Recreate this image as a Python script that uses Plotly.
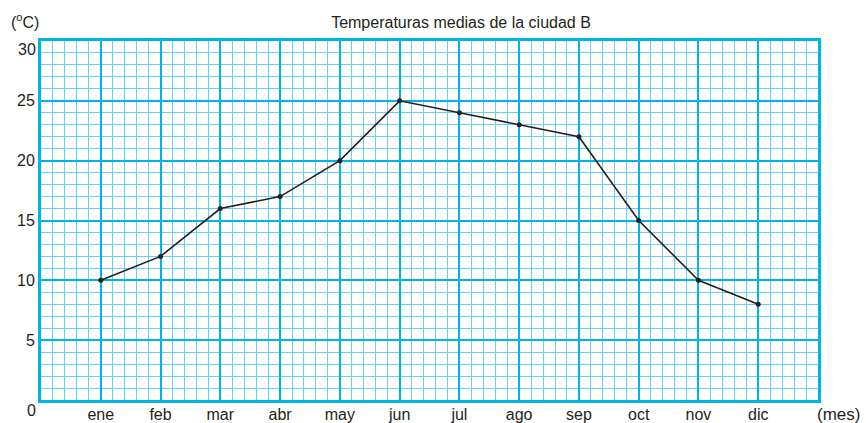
import plotly.graph_objects as go

# Average monthly temperatures (°C) for city B
meses = ["ene", "feb", "mar", "abr", "may", "jun", "jul", "ago", "sep", "oct", "nov", "dic"]
temperaturas = [10, 12, 16, 17, 20, 25, 24, 23, 22, 15, 10, 8]
y_ticks = [5, 10, 15, 20, 25]

posiciones = list(range(1, len(meses) + 1))

INK = "#231F20"
MAJOR = "#00B4E6"
MINOR = "#66D2F4"
FONT = "Liberation Sans, Arial, sans-serif"

fig = go.Figure()
fig.add_trace(go.Scatter(
    x=posiciones,
    y=temperaturas,
    mode="lines+markers",
    line=dict(color=INK, width=1.6),
    marker=dict(color=INK, size=5),
    hoverinfo="skip",
    showlegend=False,
))

fig.update_layout(
    width=866,
    height=423,
    margin=dict(l=41, r=48, t=41, b=23, autoexpand=False),
    paper_bgcolor="white",
    plot_bgcolor="white",
    font=dict(family=FONT, size=15, color=INK),
    showlegend=False,
    hovermode=False,
    dragmode=False,
    title=dict(
        text="Temperaturas medias de la ciudad B",
        x=461 / 866,
        xanchor="center",
        y=1 - 22 / 423,
        yanchor="middle",
        font=dict(family=FONT, size=16, color=INK),
    ),
)

fig.update_xaxes(
    range=[0, 13],
    tickmode="array",
    tickvals=posiciones,
    ticktext=meses,
    ticks="",
    ticklabelstandoff=-2,
    showgrid=True,
    gridcolor=MAJOR,
    gridwidth=2.2,
    minor=dict(tick0=0, dtick=0.2, showgrid=True, gridcolor=MINOR, gridwidth=1.2),
    showline=True,
    linecolor=MAJOR,
    linewidth=3,
    mirror=True,
    zeroline=False,
    automargin=False,
    tickfont=dict(size=16, color=INK),
    fixedrange=True,
)

fig.update_yaxes(
    range=[0, 30],
    tickmode="array",
    tickvals=y_ticks,
    ticktext=[str(v) for v in y_ticks],
    ticks="",
    showgrid=True,
    gridcolor=MAJOR,
    gridwidth=2.2,
    minor=dict(tick0=0, dtick=1, showgrid=True, gridcolor=MINOR, gridwidth=1.2),
    showline=True,
    linecolor=MAJOR,
    linewidth=3,
    mirror=True,
    zeroline=False,
    automargin=False,
    tickfont=dict(size=16, color=INK),
    fixedrange=True,
)

# Axis end labels placed outside the plot area
fig.add_annotation(text="30", xref="paper", yref="y", x=0, y=30, xanchor="right",
                   yanchor="top", xshift=-3, yshift=2, showarrow=False,
                   font=dict(size=16, color=INK))
fig.add_annotation(text="0", xref="paper", yref="y", x=0, y=0, xanchor="right",
                   yanchor="top", xshift=-3, yshift=0, showarrow=False,
                   font=dict(size=16, color=INK))
fig.add_annotation(text="(<sup>o</sup>C)", xref="paper", yref="paper", x=0, y=1,
                   xanchor="right", yanchor="bottom", xshift=0, yshift=8,
                   showarrow=False, font=dict(size=16, color=INK))
fig.add_annotation(text="(mes)", xref="paper", yref="paper", x=1, y=0,
                   xanchor="left", yanchor="top", xshift=-3, yshift=-3,
                   showarrow=False, font=dict(size=17, color=INK))

fig.write_html("out.html")
